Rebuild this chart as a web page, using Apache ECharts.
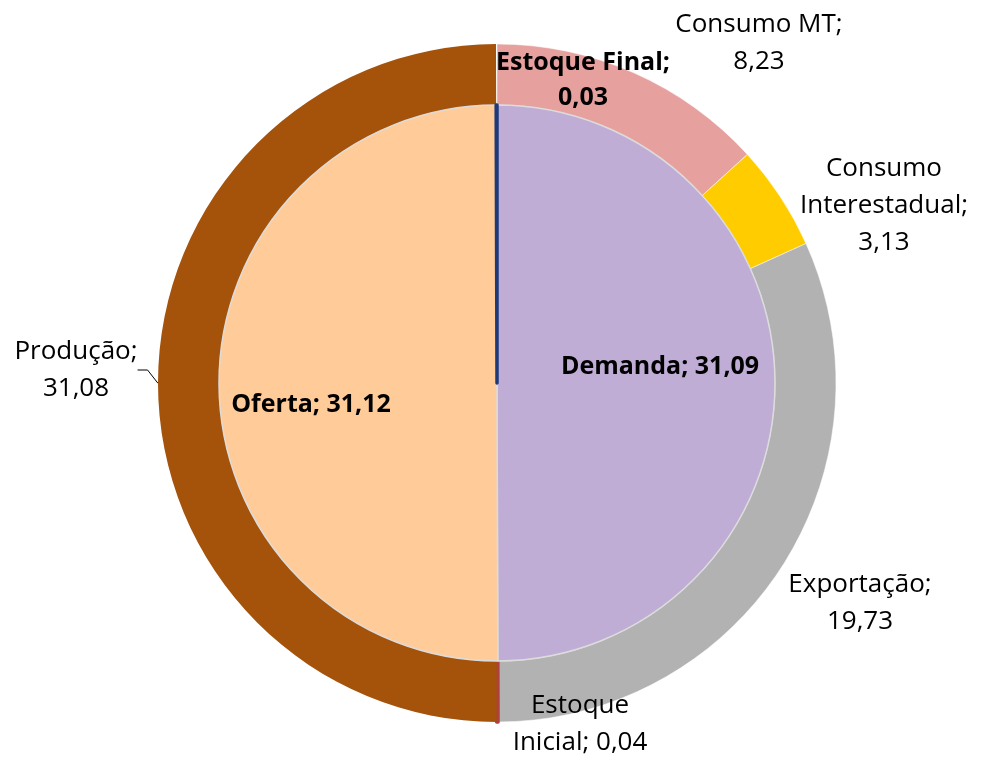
<!DOCTYPE html>
<html>
<head>
<meta charset="utf-8">
<script src="https://cdn.jsdelivr.net/npm/echarts@6/dist/echarts.min.js"></script>
<style>
  html, body { margin: 0; padding: 0; background: #fff; }
  #chart { width: 982px; height: 759px; }
</style>
</head>
<body>
<div id="chart"></div>
<script>
// inner pie: clockwise from 12 o'clock
const innerNames = ["Demanda", "Oferta", "Estoque Final"];
const innerValues = [31.09, 31.12, 0.03];
const innerColors = ["#bfadd5", "#ffcc99", "#1f3a7a"];

// outer ring: clockwise from 12 o'clock (last slice is an empty gap)
const outerNames = ["Consumo MT", "Consumo Interestadual", "Exportação", "Estoque Inicial", "Produção", ""];
const outerValues = [8.23, 3.13, 19.73, 0.04, 31.08, 0.03];
const outerColors = ["#e6a19f", "#ffcc00", "#b2b2b2", "#b04040", "#a5520b", "rgba(0,0,0,0)"];

// tiny slices get a border in their own colour so they stay visible
const thinSlices = ["Estoque Final", "Estoque Inicial"];

// label text with line breaks as in the picture
const labelText = {
    "Consumo MT": "Consumo MT;\n8,23",
    "Consumo Interestadual": "Consumo\nInterestadual;\n3,13",
    "Exportação": "Exportação;\n19,73",
    "Estoque Inicial": "Estoque\nInicial; 0,04",
    "Produção": "Produção;\n31,08",
    "Demanda": "Demanda; 31,09",
    "Oferta": "Oferta; 31,12",
    "Estoque Final": "Estoque Final;\n0,03",
};

// where each label sits on the page
const labelPos = {
    "Consumo MT": [759, 43],
    "Consumo Interestadual": [884, 206],
    "Exportação": [860, 603],
    "Estoque Inicial": [580, 724],
    "Produção": [76, 370],
    "Demanda": [660, 367],
    "Oferta": [311, 405],
    "Estoque Final": [583, 80],
};

const center = [497, 383];
const fontFamily = "'Open Sans', 'Noto Sans', sans-serif";

const chartDom = document.getElementById("chart");
const myChart = echarts.init(chartDom);

function makeLayout(names) {
    return function (params) {
        const p = labelPos[names[params.dataIndex]];
        if (!p) return {};
        return { x: p[0], y: p[1], align: "center", verticalAlign: "middle" };
    };
}

function itemFor(names, values, colors, i) {
    const d = {
        name: names[i],
        value: values[i],
        itemStyle: { color: colors[i] },
    };
    if (thinSlices.includes(names[i])) {
        d.itemStyle.borderColor = colors[i];
        d.itemStyle.borderWidth = 3.5;
    }
    return d;
}

const option = {
    animation: false,
    series: [
        {
            name: "Outer",
            type: "pie",
            center: center,
            radius: [278, 339],
            startAngle: 90,
            clockwise: true,
            avoidLabelOverlap: false,
            itemStyle: { borderColor: "#ffffff", borderWidth: 0.5 },
            label: {
                show: true,
                position: "outside",
                color: "#000",
                fontSize: 26,
                lineHeight: 37,
                fontFamily: fontFamily,
                formatter: (p) => labelText[p.name] || "",
            },
            labelLine: { show: false },
            labelLayout: makeLayout(outerNames),
            data: outerValues.map((v, i) => {
                const d = itemFor(outerNames, outerValues, outerColors, i);
                if (outerNames[i] === "Produção") {
                    d.itemStyle.borderWidth = 0;
                    d.labelLine = {
                        show: true,
                        length: 8,
                        length2: 10,
                        lineStyle: { color: "#000", width: 1 },
                    };
                }
                if (outerNames[i] === "") {
                    d.itemStyle.borderWidth = 0;
                    d.label = { show: false };
                }
                return d;
            }),
        },
        {
            name: "Inner",
            type: "pie",
            center: center,
            radius: [0, 278],
            startAngle: 90,
            clockwise: true,
            avoidLabelOverlap: false,
            itemStyle: { borderColor: "#dcdcdc", borderWidth: 1.5 },
            label: {
                show: true,
                position: "inside",
                color: "#000",
                fontSize: 25,
                fontWeight: "bold",
                lineHeight: 35,
                fontFamily: fontFamily,
                formatter: (p) => labelText[p.name] || "",
            },
            labelLine: { show: false },
            labelLayout: makeLayout(innerNames),
            data: innerValues.map((v, i) => itemFor(innerNames, innerValues, innerColors, i)),
        },
    ],
};

myChart.setOption(option);
</script>
</body>
</html>
